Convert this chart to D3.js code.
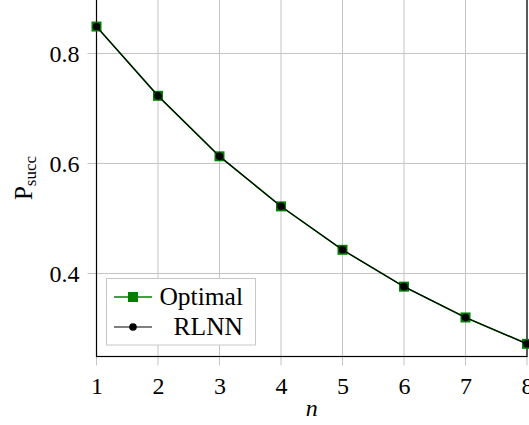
<!DOCTYPE html>
<html>
<head>
<meta charset="utf-8">
<script src="https://cdn.jsdelivr.net/npm/d3@7"></script>
<style>
  body { margin: 0; background: #fff; }
  svg { display: block; }
  text { font-family: "Liberation Serif", "DejaVu Serif", serif; fill: #000; }
</style>
</head>
<body>
<svg id="chart" width="529" height="425"></svg>
<script>
// data
var nValues = [1, 2, 3, 4, 5, 6, 7, 8];
var optimal = [0.849, 0.723, 0.613, 0.522, 0.443, 0.376, 0.320, 0.272];
var rlnn = [0.849, 0.723, 0.613, 0.522, 0.443, 0.376, 0.320, 0.272];
var xTicks = [1, 2, 3, 4, 5, 6, 7, 8];
var yTicks = [0.4, 0.6, 0.8];
var seriesNames = ["Optimal", "RLNN"];

var svg = d3.select("#chart");
var pLeft = 96.5, pRight = 527, pTop = -1.5, pBottom = 356.5;

var x = d3.scaleLinear().domain([1, 8]).range([pLeft, pRight]);
var y = d3.scaleLinear().domain([0.249, 0.9]).range([pBottom, pTop]);

// grid
var grid = svg.append("g").attr("stroke", "#c4c4c4").attr("stroke-width", 1);
xTicks.forEach(function (t) {
  grid.append("line").attr("x1", x(t)).attr("x2", x(t)).attr("y1", pTop).attr("y2", pBottom + 9);
});
yTicks.forEach(function (t) {
  grid.append("line").attr("x1", pLeft - 9).attr("x2", pRight).attr("y1", y(t)).attr("y2", y(t));
});

// axes
var xAxis = svg.append("g")
  .attr("transform", "translate(0," + pBottom + ")")
  .call(d3.axisBottom(x).tickValues(xTicks).tickSize(0).tickPadding(20).tickFormat(d3.format("d")));
xAxis.select(".domain").remove();
xAxis.selectAll("text").attr("font-size", 24).attr("font-family", "Liberation Serif");

var yAxis = svg.append("g")
  .attr("transform", "translate(" + pLeft + ",0)")
  .call(d3.axisLeft(y).tickValues(yTicks).tickSize(0).tickPadding(17).tickFormat(d3.format(".1f")));
yAxis.select(".domain").remove();
yAxis.selectAll("text").attr("font-size", 24).attr("font-family", "Liberation Serif");

svg.append("rect")
  .attr("x", pLeft).attr("y", pTop)
  .attr("width", pRight - pLeft).attr("height", pBottom - pTop)
  .attr("fill", "none").attr("stroke", "#000").attr("stroke-width", 1.2);

// series
var line = d3.line()
  .x(function (d, i) { return x(nValues[i]); })
  .y(function (d) { return y(d); });

svg.append("path").datum(optimal)
  .attr("d", line).attr("fill", "none").attr("stroke", "#008000").attr("stroke-width", 1.6);
svg.append("g").selectAll("rect").data(optimal).enter().append("rect")
  .attr("x", function (d, i) { return x(nValues[i]) - 5; })
  .attr("y", function (d) { return y(d) - 5; })
  .attr("width", 10).attr("height", 10)
  .attr("fill", "#008000");

svg.append("path").datum(rlnn)
  .attr("d", line).attr("fill", "none").attr("stroke", "#000").attr("stroke-width", 1.2);
svg.append("g").selectAll("circle").data(rlnn).enter().append("circle")
  .attr("cx", function (d, i) { return x(nValues[i]); })
  .attr("cy", function (d) { return y(d); })
  .attr("r", 3.8)
  .attr("fill", "#000");

// axis labels
svg.append("text")
  .attr("x", (pLeft + pRight) / 2).attr("y", 416)
  .attr("text-anchor", "middle")
  .attr("font-size", 24).attr("font-style", "italic")
  .text("n");

var yl = svg.append("text")
  .attr("transform", "translate(32,178) rotate(-90)")
  .attr("text-anchor", "middle")
  .attr("font-size", 25);
yl.append("tspan").text("P");
yl.append("tspan").attr("font-size", 17).attr("dy", 4).text("succ");

// legend
var lg = svg.append("g");
lg.append("rect")
  .attr("x", 106.5).attr("y", 278.5).attr("width", 149).attr("height", 66.5)
  .attr("fill", "#fff").attr("stroke", "#c8c8c8").attr("stroke-width", 1);

var rows = [297, 327];
seriesNames.forEach(function (name, i) {
  var color = i === 0 ? "#008000" : "#000";
  lg.append("line")
    .attr("x1", 114).attr("x2", 152).attr("y1", rows[i]).attr("y2", rows[i])
    .attr("stroke", color).attr("stroke-width", i === 0 ? 1.6 : 1.2);
  if (i === 0) {
    lg.append("rect").attr("x", 128).attr("y", rows[i] - 5).attr("width", 10).attr("height", 10).attr("fill", color);
  } else {
    lg.append("circle").attr("cx", 133).attr("cy", rows[i]).attr("r", 3.8).attr("fill", color);
  }
  lg.append("text")
    .attr("x", 243).attr("y", rows[i] + 8)
    .attr("text-anchor", "end")
    .attr("font-size", 25.5)
    .text(name);
});
</script>
</body>
</html>
